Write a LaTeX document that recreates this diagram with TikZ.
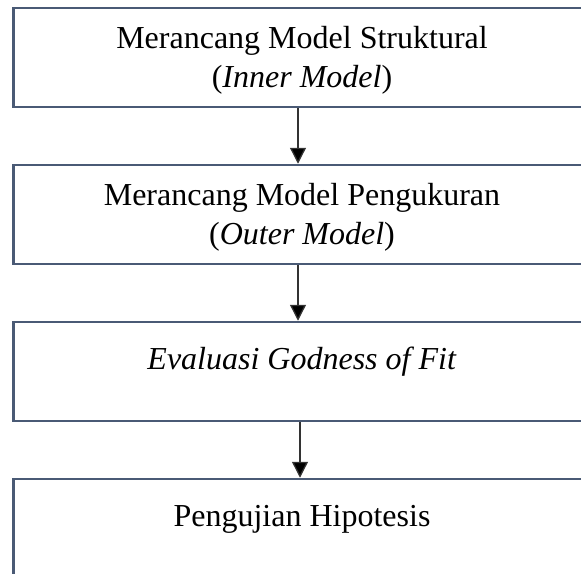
\documentclass[tikz,border=0pt]{standalone}
\usepackage{fontspec}
\setmainfont{Liberation Serif}
\usetikzlibrary{arrows.meta}
\definecolor{boxline}{HTML}{4A5A75}
\newcommand{\toprule}{\rule{0pt}{27pt}}
\newcommand{\botrule}{\rule[-7pt]{0pt}{7pt}}
\newcommand{\onerule}{\rule[-27pt]{0pt}{49pt}}

\begin{document}
\begin{tikzpicture}[x=1pt, y=1pt, node distance=157pt,
	box/.style={draw=boxline, line width=2.5pt, minimum width=577pt, minimum height=99pt,
		inner sep=0pt, align=center, font=\fontsize{32}{39}\selectfont},
	flow/.style={draw=black!80, line width=1.3pt, -{Triangle[length=16pt,width=16pt,fill=black]}}]
	\useasboundingbox (0,0) rectangle (581,-573);

	\node[box] (b1) at (302,-57.5) {\toprule Merancang Model Struktural\\ (\textit{Inner Model})\botrule};
	\node[box] (b2) [below of=b1]  {\toprule Merancang Model Pengukuran\\ (\textit{Outer Model})\botrule};
	\node[box] (b3) [below of=b2]  {\onerule\textit{Evaluasi Godness of Fit}};
	\node[box] (b4) [below of=b3]  {\onerule Pengujian Hipotesis};

	\draw[flow] ([xshift=-4pt]b1.south) -- ([xshift=-4pt]b2.north);
	\draw[flow] ([xshift=-4pt]b2.south) -- ([xshift=-4pt]b3.north);
	\draw[flow] ([xshift=-2pt]b3.south) -- ([xshift=-2pt]b4.north);
\end{tikzpicture}
\end{document}
